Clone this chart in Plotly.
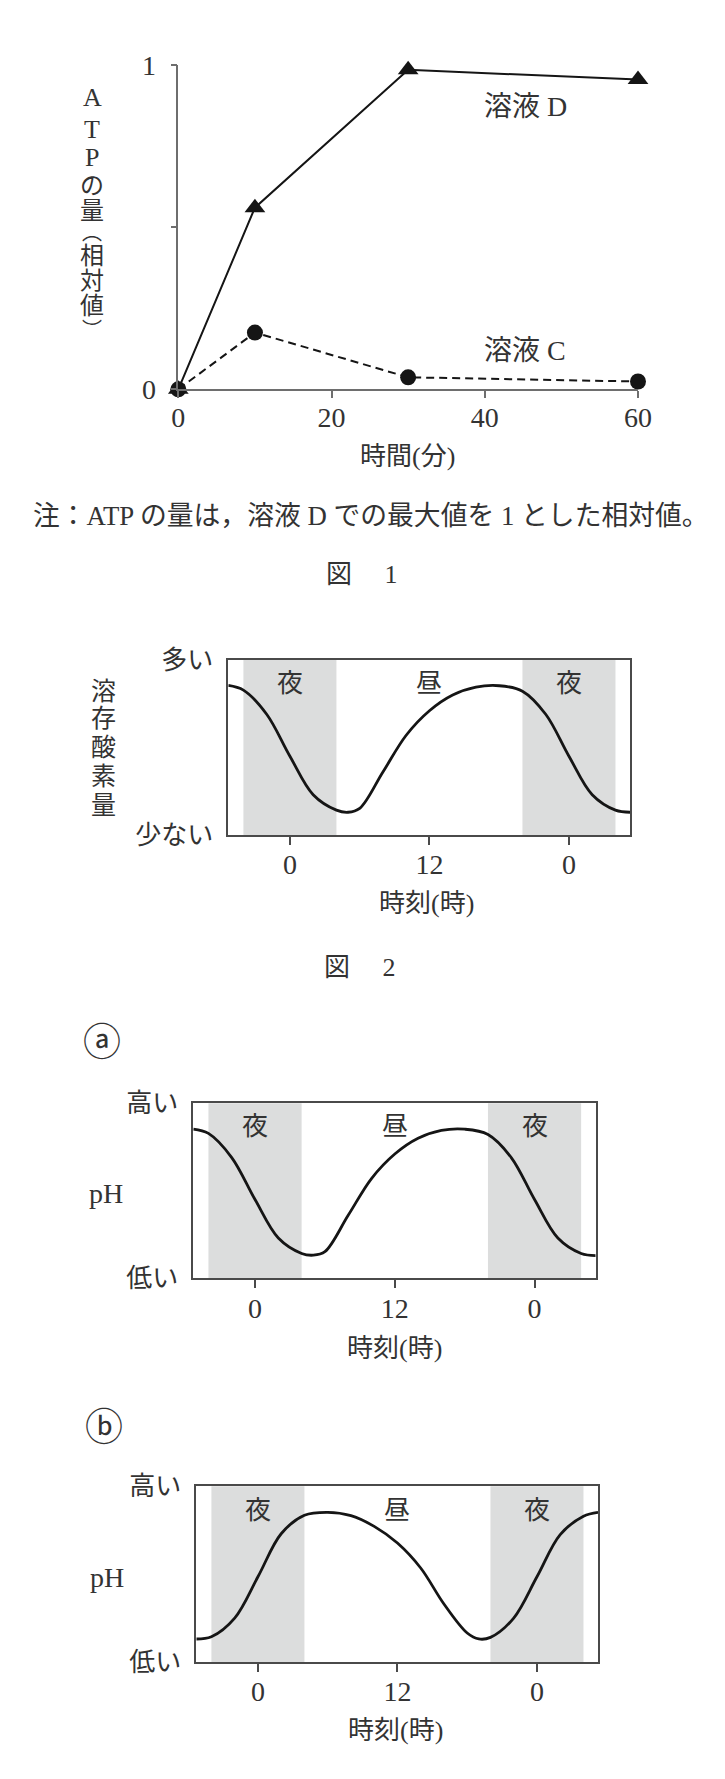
import plotly.graph_objects as go

W, H = 725, 1779

# ---------------- data ----------------
# Figure 1 : ATP amount (relative) vs time (min)
time_min = [0, 10, 30, 60]
atp_solution_D = [0.0, 0.56, 0.985, 0.955]
atp_solution_C = [0.0, 0.175, 0.037, 0.024]
time_ticks = [0, 20, 40, 60]
atp_ticks = [0, 0.5, 1]
atp_ticktext = ["0", "", "1"]

# Figure 2 / (a) / (b): daily curves (hour of day, relative level)
hour_ticks = [0, 12, 24]
hour_ticktext = ["0", "12", "0"]
night_start = [-4, 20]
night_end = [4, 28]
period_pos = [0, 12, 24]
period_labels = ["夜", "昼", "夜"]

hours_do = [-5.3, -4, -2, 0, 2, 4, 5, 6, 8, 10, 12, 14, 16, 18, 20, 22, 24, 26, 28, 29.25]
do_values = [0.855, 0.828, 0.69, 0.45, 0.23, 0.142, 0.13, 0.152, 0.36, 0.57, 0.71, 0.80,
             0.845, 0.853, 0.822, 0.69, 0.45, 0.23, 0.142, 0.13]

hours_a = [-5.3, -4, -2, 0, 2, 4, 5, 6, 8, 10, 12, 14, 16, 18, 20, 22, 24, 26, 28, 29.25]
ph_a = [0.853, 0.828, 0.69, 0.45, 0.23, 0.142, 0.132, 0.152, 0.36, 0.57, 0.71, 0.80,
        0.845, 0.852, 0.822, 0.69, 0.45, 0.23, 0.142, 0.13]

hours_b = [-5.3, -4, -2, 0, 2, 4, 6, 8, 10, 12, 14, 16, 18, 19, 20, 22, 24, 26, 28, 29.25]
ph_b = [0.131, 0.144, 0.25, 0.485, 0.73, 0.835, 0.852, 0.833, 0.772, 0.677, 0.535, 0.33,
        0.165, 0.131, 0.14, 0.25, 0.485, 0.725, 0.83, 0.852]

# ---------------- helpers ----------------
def px(x):
    return x / W

def py(y):
    return 1 - y / H

def xdom(a, b):
    return [a / W, b / W]

def ydom(top, bottom):
    return [1 - bottom / H, 1 - top / H]

FONT = "Liberation Serif, Noto Sans CJK JP, serif"
TXT = "#333333"
INK = "#151515"
AX = "#6e6e6e"
BOX = "#4a4a4a"
SHADE = "#dcdddd"
FS = 26

fig = go.Figure()

# ---------------- figure 1 ----------------
fig.add_trace(go.Scatter(
    x=time_min, y=atp_solution_D, mode="lines+markers",
    line=dict(color=INK, width=2),
    marker=dict(symbol="triangle-up", size=18, color=INK),
    xaxis="x", yaxis="y", cliponaxis=False, showlegend=False))
fig.add_trace(go.Scatter(
    x=time_min, y=atp_solution_C, mode="lines+markers",
    line=dict(color=INK, width=2, dash="8px,5px"),
    marker=dict(symbol="circle", size=16, color=INK),
    xaxis="x", yaxis="y", cliponaxis=False, showlegend=False))

# ---------------- daily curves ----------------
curves = [(hours_do, do_values, "2"), (hours_a, ph_a, "3"), (hours_b, ph_b, "4")]
for hx, hy, k in curves:
    fig.add_trace(go.Scatter(
        x=hx, y=hy, mode="lines",
        line=dict(color=INK, width=2.8, shape="spline", smoothing=1.0),
        xaxis="x" + k, yaxis="y" + k, showlegend=False))

tickfont = dict(family=FONT, size=FS, color=TXT)
digitfont = dict(family=FONT, size=28, color=TXT)

layout_axes = dict(
    xaxis=dict(domain=xdom(178.3, 638), range=[0, 60], tickvals=time_ticks,
               showline=True, linecolor=AX, linewidth=1.5, ticks="outside", ticklen=7,
               tickcolor=AX, tickwidth=1.5, showgrid=False, zeroline=False,
               tickfont=digitfont, anchor="y", ticklabelstandoff=-5, automargin=False),
    yaxis=dict(domain=ydom(65, 389.3), range=[0, 1], tickvals=atp_ticks, ticktext=atp_ticktext,
               showline=True, linecolor=AX, linewidth=1.5, ticks="outside", ticklen=6,
               tickcolor=AX, tickwidth=1.5, showgrid=False, zeroline=False,
               tickfont=digitfont, anchor="x", ticklabelstandoff=9, automargin=False),
)

boxes = {
    "2": dict(x=(228.3, 630), y=(660, 835), low="少ない", high="多い"),
    "3": dict(x=(193.3, 595.7), y=(1103.3, 1278.3), low="低い", high="高い"),
    "4": dict(x=(196.3, 598), y=(1486.3, 1662), low="低い", high="高い"),
}
for k, b in boxes.items():
    layout_axes["xaxis" + k] = dict(
        domain=xdom(*b["x"]), range=[-5.3, 29.25], tickvals=hour_ticks, ticktext=hour_ticktext,
        showline=True, mirror=True, linecolor=BOX, linewidth=1.7, ticks="outside", ticklen=8,
        tickcolor=BOX, tickwidth=1.5, showgrid=False, zeroline=False, tickfont=digitfont,
        anchor="y" + k, ticklabelstandoff=-4, automargin=False)
    layout_axes["yaxis" + k] = dict(
        domain=ydom(*b["y"]), range=[0, 1], tickvals=[0, 1], ticktext=[b["low"], b["high"]],
        showline=True, mirror=True, linecolor=BOX, linewidth=1.7, ticks="",
        showgrid=False, zeroline=False, tickfont=tickfont, anchor="x" + k,
        ticklabelstandoff=8, automargin=False)

shapes = []
annotations = []
for k in boxes:
    for s, e in zip(night_start, night_end):
        shapes.append(dict(type="rect", xref="x" + k, yref="y" + k + " domain",
                           x0=s, x1=e, y0=0, y1=1, fillcolor=SHADE,
                           line=dict(width=0), layer="below"))
    for pos, lab in zip(period_pos, period_labels):
        annotations.append(dict(x=pos, y=0.865, xref="x" + k, yref="y" + k + " domain",
                                text=lab, showarrow=False, yanchor="middle",
                                font=dict(family=FONT, size=FS, color=TXT)))

def note(x, y, text, size=FS):
    annotations.append(dict(x=px(x), y=py(y), xref="paper", yref="paper", text=text,
                            showarrow=False, xanchor="center", yanchor="middle",
                            font=dict(family=FONT, size=size, color=TXT)))

# series labels (data coordinates)
annotations.append(dict(x=45.3, y=0.871, xref="x", yref="y", text="溶液 D", showarrow=False,
                        xanchor="center", yanchor="middle",
                        font=dict(family=FONT, size=28, color=TXT)))
annotations.append(dict(x=45.2, y=0.121, xref="x", yref="y", text="溶液 C", showarrow=False,
                        xanchor="center", yanchor="middle",
                        font=dict(family=FONT, size=28, color=TXT)))

# vertical y-title of figure 1 (vertical writing, one glyph per position)
title1 = [("A", 97.5, 26), ("T", 129, 26), ("P", 157.5, 26), ("の", 186, 24), ("量", 211, 24),
          ("︵", 233, 20), ("相", 256, 24), ("対", 281, 24), ("値", 306, 24), ("︶", 330, 20)]
for ch, yy, sz in title1:
    note(92, yy, ch, size=sz)

# vertical y-title of figure 2
title2 = [("溶", 691), ("存", 718.5), ("酸", 747.5), ("素", 776), ("量", 805)]
for ch, yy in title2:
    note(103, yy, ch, size=25)

note(407, 457, "時間(分)")
note(371, 516, "注：ATP の量は，溶液 D での最大値を 1 とした相対値。", size=26.8)
note(362, 574, "図\u3000 1")
note(426, 903, "時刻(時)")
note(360, 967, "図\u3000 2")
note(102, 1042, "ⓐ", size=38)
note(106, 1193, "pH", size=28)
note(394, 1348, "時刻(時)")
note(104, 1427, "ⓑ", size=38)
note(107, 1577, "pH", size=28)
note(395, 1730, "時刻(時)")

fig.update_layout(
    width=W, height=H, autosize=False,
    margin=dict(l=0, r=0, t=0, b=0, pad=0),
    paper_bgcolor="white", plot_bgcolor="rgba(0,0,0,0)",
    showlegend=False, shapes=shapes, annotations=annotations,
    font=dict(family=FONT, color=TXT),
    **layout_axes,
)

fig.write_html("out.html")
